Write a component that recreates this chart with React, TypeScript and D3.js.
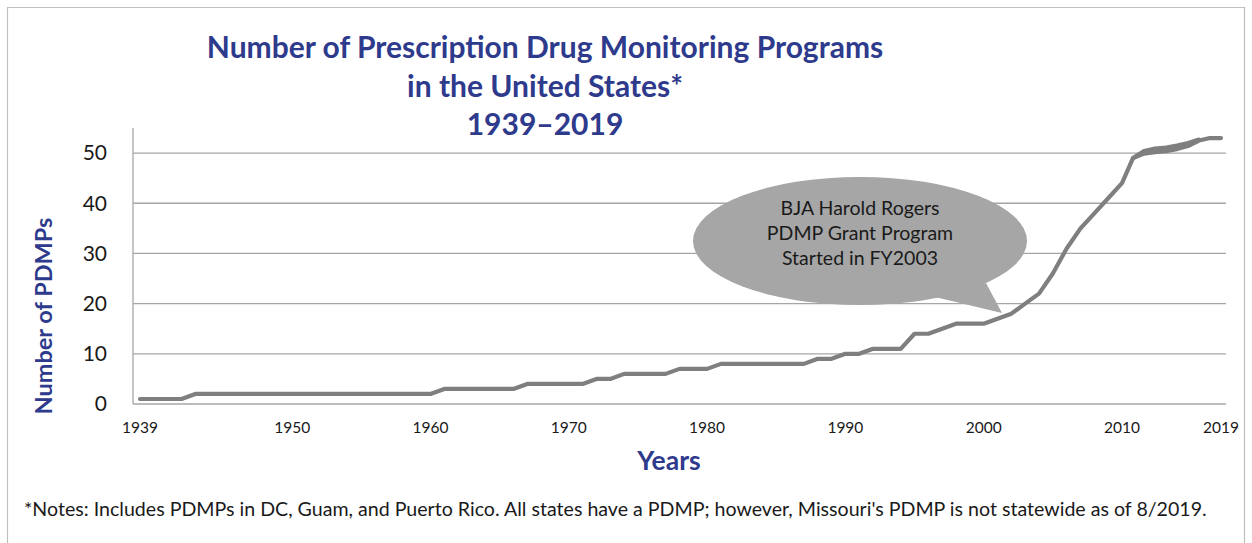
import React from 'react';
import * as d3 from 'd3';

const years = [
  1939, 1940, 1941, 1942, 1943, 1944, 1945, 1946, 1947, 1948, 1949,
  1950, 1951, 1952, 1953, 1954, 1955, 1956, 1957, 1958, 1959,
  1960, 1961, 1962, 1963, 1964, 1965, 1966, 1967, 1968, 1969,
  1970, 1971, 1972, 1973, 1974, 1975, 1976, 1977, 1978, 1979,
  1980, 1981, 1982, 1983, 1984, 1985, 1986, 1987, 1988, 1989,
  1990, 1991, 1992, 1993, 1994, 1995, 1996, 1997, 1998, 1999,
  2000, 2001, 2002, 2003, 2004, 2005, 2006, 2007, 2008, 2009,
  2010, 2011, 2012, 2013, 2014, 2015, 2016, 2017, 2018, 2019,
];

const pdmpCount = [
  1, 1, 1, 1, 2, 2, 2, 2, 2, 2, 2,
  2, 2, 2, 2, 2, 2, 2, 2, 2, 2,
  2, 3, 3, 3, 3, 3, 3, 4, 4, 4,
  4, 4, 5, 5, 6, 6, 6, 6, 7, 7,
  7, 8, 8, 8, 8, 8, 8, 8, 9, 9,
  10, 10, 11, 11, 11, 14, 14, 15, 16, 16,
  16, 17, 18, 20, 22, 26, 31, 35, 38, 41,
  44, 49, 49.9, 50.2, 50.4, 50.8, 51.4, 52.5, 53, 53,
];

// short overlapping trace visible in 2012–2017
const overlapYears = [2011, 2012, 2013, 2014, 2015, 2016, 2017];
const overlapCount = [49, 50.4, 50.9, 51.1, 51.5, 52, 52.7];

const xTickValues = [1939, 1950, 1960, 1970, 1980, 1990, 2000, 2010, 2019];
const xTickLabels = ['1939', '1950', '1960', '1970', '1980', '1990', '2000', '2010', '2019'];
const yTickValues = [0, 10, 20, 30, 40, 50];

const titleLines = [
  'Number of Prescription Drug Monitoring Programs',
  'in the United States*',
  '1939\u20132019',
];
const calloutLines = ['BJA Harold Rogers', 'PDMP Grant Program', 'Started in FY2003'];
const yAxisTitle = 'Number of PDMPs';
const xAxisTitle = 'Years';
const footnote =
  "*Notes: Includes PDMPs in DC, Guam, and Puerto Rico. All states have a PDMP; however, Missouri's PDMP is not statewide as of 8/2019.";

const W = 1252;
const H = 543;
const BLUE = '#2e3a8c';
const FONT = 'Lato, "Open Sans", sans-serif';

export default function App() {
  const x = d3.scaleLinear().domain([1939, 2010, 2019]).range([140, 1122, 1221]);
  const y = d3.scaleLinear().domain([0, 55]).range([404, 128]);
  const plotLeft = 133;
  const plotRight = 1226;

  const data = years.map((yr, i) => ({ yr, v: pdmpCount[i] }));
  const overlap = overlapYears.map((yr, i) => ({ yr, v: overlapCount[i] }));
  const line = d3
    .line<{ yr: number; v: number }>()
    .x((d) => x(d.yr))
    .y((d) => y(d.v))
    .curve(d3.curveLinear);

  // callout geometry
  const cx = 860;
  const cy = 241;
  const rx = 167;
  const ry = 64;
  const tail = [
    [935, 297],
    [1002, 313],
    [986, 283],
  ];

  return (
    <svg
      width={W}
      height={H}
      style={{ position: 'absolute', left: 0, top: 0, background: '#fff' }}
      fontFamily={FONT}
    >
      <rect x={0} y={0} width={W} height={H} fill="#fff" />
      {/* outer frame */}
      <path d={`M7.5,${H} V7.5 H1244.5 V${H}`} fill="none" stroke="#bfbfbf" strokeWidth={1.2} />

      {/* title */}
      {titleLines.map((t, i) => (
        <text
          key={t}
          x={545}
          y={58 + i * 38.7}
          textAnchor="middle"
          fontSize={30}
          fontWeight="bold"
          fill={BLUE}
        >
          {t}
        </text>
      ))}

      {/* gridlines */}
      {yTickValues.map((v) => (
        <line
          key={v}
          x1={plotLeft}
          x2={plotRight}
          y1={y(v)}
          y2={y(v)}
          stroke="#a6a6a6"
          strokeWidth={1.3}
        />
      ))}
      <line x1={plotLeft} x2={plotLeft} y1={y(55)} y2={y(0)} stroke="#a6a6a6" strokeWidth={1.3} />

      {/* y tick labels */}
      {yTickValues.map((v) => (
        <text key={v} x={107} y={y(v)} dy="0.35em" textAnchor="end" fontSize={21} fill="#1a1a1a">
          {v}
        </text>
      ))}

      {/* x tick labels */}
      {xTickValues.map((v, i) => (
        <text key={v} x={x(v)} y={433} textAnchor="middle" fontSize={15.5} fill="#1a1a1a">
          {xTickLabels[i]}
        </text>
      ))}

      {/* axis titles */}
      <text
        transform={`translate(52,316) rotate(-90)`}
        textAnchor="middle"
        fontSize={23.5}
        fontWeight="bold"
        fill={BLUE}
      >
        {yAxisTitle}
      </text>
      <text x={669} y={470} textAnchor="middle" fontSize={26.5} fontWeight="bold" fill={BLUE}>
        {xAxisTitle}
      </text>

      {/* callout */}
      <g fill="#a6a6a6">
        <ellipse cx={cx} cy={cy} rx={rx} ry={ry} />
        <polygon points={tail.map((p) => p.join(',')).join(' ')} />
      </g>
      {calloutLines.map((t, i) => (
        <text key={t} x={cx} y={208 + i * 25} dy="0.35em" textAnchor="middle" fontSize={19.5} fill="#1a1a1a">
          {t}
        </text>
      ))}

      {/* data line */}
      <path d={line(overlap) || ''} fill="none" stroke="#7f7f7f" strokeWidth={4.2} strokeLinecap="round" strokeLinejoin="round" />
      <path d={line(data) || ''} fill="none" stroke="#7f7f7f" strokeWidth={4.2} strokeLinecap="round" strokeLinejoin="round" />

      {/* footnote */}
      <text x={24} y={516} fontSize={19.6} fill="#1a1a1a">
        {footnote}
      </text>
    </svg>
  );
}
